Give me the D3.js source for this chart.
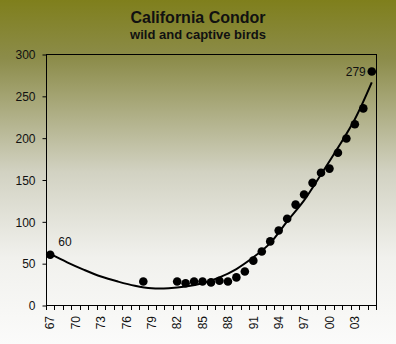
<!DOCTYPE html>
<html><head><meta charset="utf-8">
<script src="https://cdn.jsdelivr.net/npm/d3@7"></script>
<style>
html,body{margin:0;padding:0;background:#fff;}
svg{display:block;}
text{font-family:"Liberation Sans",Arial,sans-serif;}
</style></head>
<body><div id="chart"></div>
<script>
// categories (years on the x axis)
const years = d3.range(1967, 2006);
const tickYears = [1967,1970,1973,1976,1979,1982,1985,1988,1991,1994,1997,2000,2003];
const yTicks = [0,50,100,150,200,250,300];

// observed counts (wild and captive birds)
const obsYears  = [1967,1978,1982,1983,1984,1985,1986,1987,1988,1989,1990,1991,1992,1993,1994,1995,1996,1997,1998,1999,2000,2001,2002,2003,2004,2005];
const obsValues = [60,  28,  28,  26,  28,  28,  27,  29,  28,  33,  40,  53,  64,  76,  89,  103, 120, 132, 146, 158, 163, 182, 199, 216, 235, 279];

// trend line
const trendYears  = [1967,1969,1971,1973,1975,1977,1979,1981,1983,1985,1987,1989,1991,1993,1995,1997,1999,2001,2003,2005];
const trendValues = [61,  51,  42,  34,  28,  23,  20,  20,  22,  26,  33,  43,  57,  74,  100, 125, 156, 188, 222, 266];

const W = 396, H = 344;
const m = {left:46, right:376, top:54, bottom:305};

const svg = d3.select("#chart").append("svg").attr("width", W).attr("height", H);

const defs = svg.append("defs");
const grad = defs.append("linearGradient").attr("id","bg").attr("x1",0).attr("y1",0).attr("x2",0).attr("y2",1);
[[0,"#7f7f1c"],[0.17,"#8c8c4a"],[0.5,"#d2d2c2"],[0.75,"#f1f1ed"],[1,"#fbfbfa"]].forEach(s=>{
  grad.append("stop").attr("offset",s[0]).attr("stop-color",s[1]);
});
svg.append("rect").attr("width",W).attr("height",H).attr("fill","url(#bg)");

const x = d3.scaleBand().domain(years).range([m.left, m.right]).padding(0);
const y = d3.scaleLinear().domain([0,300]).range([m.bottom, m.top]);
const cx = d => x(d) + x.bandwidth()/2;

// title
svg.append("text").attr("x", W/2).attr("y", 23).attr("text-anchor","middle")
  .attr("font-size",16).attr("font-weight","bold").attr("fill","#111").text("California Condor");
svg.append("text").attr("x", W/2).attr("y", 38.5).attr("text-anchor","middle")
  .attr("font-size",13).attr("font-weight","bold").attr("fill","#111").text("wild and captive birds");

// frame
svg.append("rect").attr("x", m.left+0.5).attr("y", y(300)+0.5)
  .attr("width", m.right - m.left).attr("height", y(0) - y(300))
  .attr("fill","none").attr("stroke","#000").attr("stroke-width",1);

// y axis
const yAxis = svg.append("g").attr("transform",`translate(${m.left+0.5},0.5)`)
  .call(d3.axisLeft(y).tickValues(yTicks).tickSize(4).tickPadding(7).tickFormat(d3.format("d")));
yAxis.select(".domain").remove();
yAxis.selectAll("line").attr("stroke","#000");
yAxis.selectAll("text").attr("font-size",12).attr("fill","#111")
  .attr("font-family","'Liberation Sans',Arial,sans-serif").attr("y", 0).attr("dy","0.35em");

// x axis ticks at band boundaries
const xg = svg.append("g");
const bounds = years.map(d => x(d)).concat([x(years[years.length-1]) + x.bandwidth()]);
xg.selectAll("line").data(bounds).join("line")
  .attr("x1", d => Math.round(d)+0.5).attr("x2", d => Math.round(d)+0.5)
  .attr("y1", m.bottom+0.5).attr("y2", m.bottom+5)
  .attr("stroke","#000");
xg.selectAll("text").data(tickYears).join("text")
  .attr("transform", d => `translate(${cx(d)},${m.bottom+11}) rotate(-90)`)
  .attr("text-anchor","end").attr("dy","0.35em")
  .attr("font-size",12).attr("fill","#111")
  .text(d => String(d).slice(2));

// trend line
const line = d3.line().x((d,i) => cx(trendYears[i])).y(d => y(d)).curve(d3.curveCatmullRom.alpha(0.5));
svg.append("path").attr("d", line(trendValues))
  .attr("fill","none").attr("stroke","#000").attr("stroke-width",2);

// markers
svg.append("g").selectAll("circle").data(obsValues).join("circle")
  .attr("cx", (d,i) => cx(obsYears[i])).attr("cy", d => y(d))
  .attr("r", 4.3).attr("fill","#000");

// value labels
svg.append("text").attr("x", cx(1967)+8).attr("y", y(60)-9)
  .attr("font-size",12).attr("fill","#111").text(obsValues[0]);
svg.append("text").attr("x", cx(2005)-6).attr("y", y(279)).attr("dy","0.35em")
  .attr("text-anchor","end").attr("font-size",12).attr("fill","#111").text(obsValues[obsValues.length-1]);
</script></body></html>
